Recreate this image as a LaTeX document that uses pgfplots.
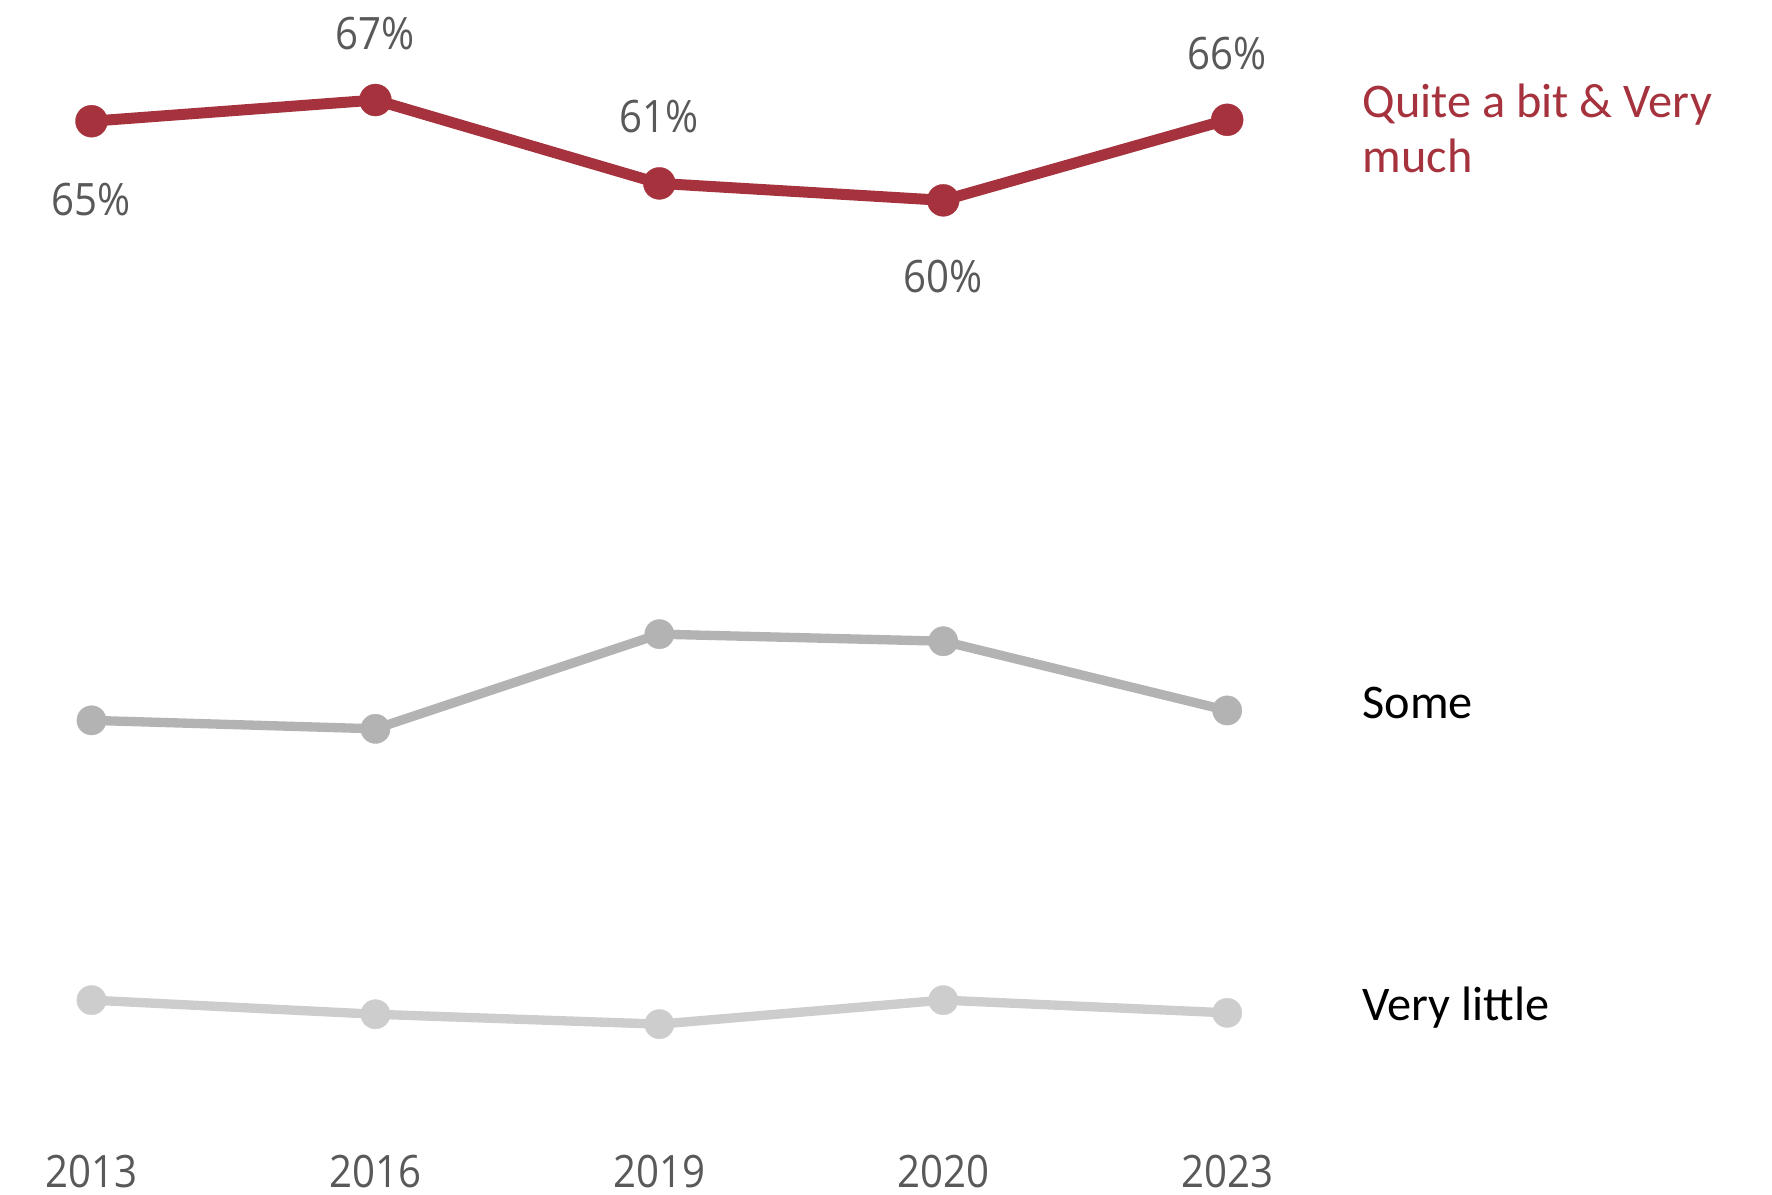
\documentclass[border=0pt]{standalone}
\usepackage{pgfplots}
\pgfplotsset{compat=1.18}
\usepackage{fontspec}
\setmainfont{Carlito}
\newfontfamily\numfont[FakeStretch=0.9]{Open Sans}
\definecolor{qred}{HTML}{A5323D}
\definecolor{sgray}{HTML}{B3B3B3}
\definecolor{vgray}{HTML}{CDCDCD}
\definecolor{labgray}{HTML}{595959}
\begin{document}
\begin{tikzpicture}
\begin{axis}[
  scale only axis, width=531.6pt, height=358.2pt,
  xmin=-0.3223, xmax=5.919, ymin=-10.42, ymax=74.08,
  axis line style={draw=none},
  tick style={draw=none},
  ytick=\empty,
  xtick={0,1,2,3,4},
  xticklabels={2013,2016,2019,2020,2023},
  xticklabel style={anchor=base, yshift=2.1pt, font=\numfont\fontsize{13.4}{15}\selectfont, text=labgray},
  clip=false,
]
\addplot[vgray, line width=2.8pt, mark=*, mark size=4.4pt, mark options={line width=0.1pt, fill=vgray}] table {
x y
0 3.3
1 2.3
2 1.6
3 3.3
4 2.4
};
\addplot[sgray, line width=2.8pt, mark=*, mark size=4.4pt, mark options={line width=0.1pt, fill=sgray}] table {
x y
0 23.1
1 22.5
2 29.2
3 28.7
4 23.8
};
\addplot[qred, line width=3.3pt, mark=*, mark size=4.8pt, mark options={line width=0.1pt, fill=qred},
  nodes near coords={\pgfplotspointmeta\%},
  point meta=explicit symbolic,
  visualization depends on={value \thisrow{dy} \as \dy},
  every node near coord/.append style={anchor=center, yshift=\dy pt, inner sep=0pt, font=\numfont\fontsize{13.4}{15}\selectfont, text=labgray},
] table[meta=lab] {
x y lab dy
0 65.5 65 -23.4
1 67.0 67 20.0
2 61.1 61 20.0
3 59.9 60 -23.0
4 65.6 66 20.0
};
\node[anchor=base west, inner sep=0pt, text=qred, font=\fontsize{14.5}{17}\selectfont] at (axis cs:4.475,65.77) {Quite a bit \& Very};
\node[anchor=base west, inner sep=0pt, text=qred, font=\fontsize{14.5}{17}\selectfont] at (axis cs:4.475,61.84) {much};
\node[anchor=base west, inner sep=0pt, text=black, font=\fontsize{14.5}{17}\selectfont] at (axis cs:4.475,23.2) {Some};
\node[anchor=base west, inner sep=0pt, text=black, font=\fontsize{14.5}{17}\selectfont] at (axis cs:4.475,1.86) {Very little};
\end{axis}
\pgfresetboundingbox
\useasboundingbox (current axis.south west) rectangle (current axis.north east);
\end{tikzpicture}
\end{document}
